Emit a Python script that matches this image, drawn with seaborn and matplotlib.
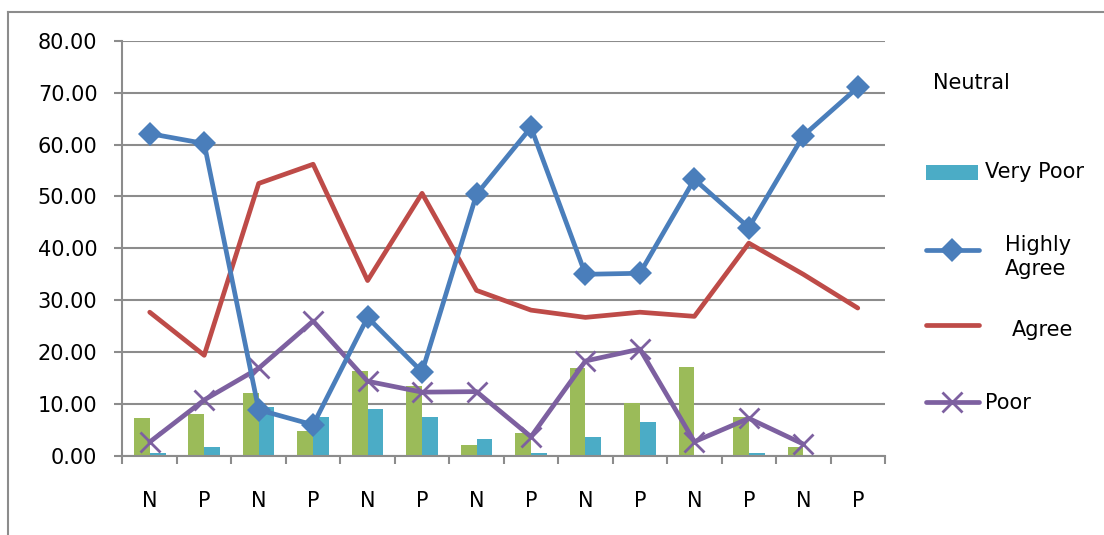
import numpy as np
import pandas as pd
import matplotlib
matplotlib.use("Agg")
import matplotlib.pyplot as plt
from matplotlib.lines import Line2D
from matplotlib.patches import Rectangle
import seaborn as sns

# Response groups (N / P alternating)
groups = ["N", "P", "N", "P", "N", "P", "N", "P", "N", "P", "N", "P", "N", "P"]

# Bar series
neutral = [7.3, 8.0, 12.2, 4.8, 16.3, 13.4, 2.2, 4.4, 16.9, 10.2, 17.1, 7.5, 1.7, 0.0]
very_poor = [0.6, 1.7, 9.5, 7.5, 9.0, 7.5, 3.3, 0.5, 3.6, 6.5, 0.0, 0.5, 0.0, 0.0]

# Line series
highly_agree = [62.1, 60.2, 8.9, 6.0, 26.7, 16.2, 50.4, 63.3, 35.0, 35.2, 53.3, 44.0, 61.7, 71.0]
agree = [27.7, 19.4, 52.5, 56.2, 33.8, 50.6, 31.9, 28.1, 26.7, 27.7, 26.9, 41.0, 35.0, 28.5]
poor = [2.7, 10.8, 16.9, 26.0, 14.4, 12.3, 12.4, 3.7, 18.3, 20.6, 2.75, 7.25, 2.3]

y_ticks = [0, 10, 20, 30, 40, 50, 60, 70, 80]

C_NEUTRAL = "#9BBB59"
C_VPOOR = "#4BACC6"
C_HAGREE = "#4A7EBB"
C_AGREE = "#BE4B48"
C_POOR = "#7D60A0"
GRID = "#8C8C8C"
FS = 15

sns.set_theme(style="white")
plt.rcParams["font.family"] = ["DejaVu Sans"]
plt.rcParams["text.color"] = "black"

W, H = 1104, 535
fig = plt.figure(figsize=(W / 100, H / 100), dpi=100)
ax = fig.add_axes([122.5 / W, 1 - 456 / H, (885 - 122.5) / W, (456 - 40.7) / H])

pos = np.arange(len(groups))
bars = pd.DataFrame({
    "pos": np.concatenate([pos, pos]),
    "value": neutral + very_poor,
    "series": ["Neutral"] * len(pos) + ["Very Poor"] * len(pos),
})
sns.barplot(data=bars, x="pos", y="value", hue="series",
            palette={"Neutral": C_NEUTRAL, "Very Poor": C_VPOOR}, saturation=1,
            width=0.58, dodge=True, gap=0, linewidth=0, legend=False,
            ax=ax, zorder=2)

line_kw = dict(linewidth=3.4, solid_joinstyle="round", solid_capstyle="round", zorder=4)
sns.lineplot(x=pos, y=agree, color=C_AGREE, ax=ax, **line_kw)
sns.lineplot(x=pos[:len(poor)], y=poor, color=C_POOR, marker="x", markersize=14,
             markeredgewidth=2.0, markeredgecolor=C_POOR, ax=ax, **line_kw)
sns.lineplot(x=pos, y=highly_agree, color=C_HAGREE, marker="D", markersize=12,
             markeredgewidth=0, ax=ax, **line_kw)

ax.set_xlim(-0.5, len(groups) - 0.5)
ax.set_ylim(0, 80)
ax.set_xlabel("")
ax.set_ylabel("")

ax.set_yticks(y_ticks)
ax.set_yticklabels([f"{v:.2f}" for v in y_ticks])
ax.set_xticks(pos)
ax.set_xticklabels(groups)
ax.set_xticks(np.arange(-0.5, len(groups), 1.0), minor=True)

ax.tick_params(axis="y", which="major", left=True, length=6, width=1.5, color=GRID,
               direction="out", pad=12, labelsize=FS, labelcolor="black")
ax.tick_params(axis="x", which="major", bottom=False, length=0, pad=25, labelsize=FS,
               labelcolor="black")
ax.tick_params(axis="x", which="minor", bottom=True, length=6, width=1.5, color=GRID,
               direction="out")

ax.grid(axis="y", color=GRID, linewidth=1.5)
ax.grid(axis="x", visible=False)
ax.set_axisbelow(True)
for side in ("top", "right"):
    ax.spines[side].set_visible(False)
for side in ("left", "bottom"):
    ax.spines[side].set_color(GRID)
    ax.spines[side].set_linewidth(1.5)

# Outer chart frame: only its left and top edges fall inside the canvas
frame_x = 8 / W
frame_y = 1 - 12 / H
fig.add_artist(Line2D([frame_x, frame_x], [-0.05, frame_y], color=GRID, linewidth=1.5,
                      solid_capstyle="projecting", transform=fig.transFigure))
fig.add_artist(Line2D([frame_x, 1.05], [frame_y, frame_y], color=GRID, linewidth=1.5,
                      solid_capstyle="projecting", transform=fig.transFigure))

# Legend drawn in figure pixel coordinates
def fx(px):
    return px / W

def fy(py):
    return 1 - py / H

fig.text(fx(933), fy(83), "Neutral", fontsize=FS, va="center", ha="left")

fig.add_artist(Rectangle((fx(926), fy(180)), (978 - 926) / W, 15 / H,
                         transform=fig.transFigure, facecolor=C_VPOOR, edgecolor="none"))
fig.text(fx(985), fy(172), "Very Poor", fontsize=FS, va="center", ha="left")

fig.add_artist(Line2D([fx(926), fx(979)], [fy(250), fy(250)], color=C_HAGREE,
                      linewidth=3.4, solid_capstyle="round", transform=fig.transFigure))
fig.add_artist(Line2D([fx(952)], [fy(250)], color=C_HAGREE, marker="D", markersize=12,
                      markeredgewidth=0, transform=fig.transFigure))
fig.text(fx(1005), fy(257), "Highly\nAgree", fontsize=FS, va="center", ha="left",
         linespacing=1.2)

fig.add_artist(Line2D([fx(926), fx(979)], [fy(325), fy(325)], color=C_AGREE,
                      linewidth=3.4, solid_capstyle="round", transform=fig.transFigure))
fig.text(fx(1012), fy(330), "Agree", fontsize=FS, va="center", ha="left")

fig.add_artist(Line2D([fx(926), fx(979)], [fy(402), fy(402)], color=C_POOR,
                      linewidth=3.4, solid_capstyle="round", transform=fig.transFigure))
fig.add_artist(Line2D([fx(952)], [fy(402)], color=C_POOR, marker="x", markersize=14,
                      markeredgewidth=2.0, transform=fig.transFigure))
fig.text(fx(985), fy(403), "Poor", fontsize=FS, va="center", ha="left")

fig.savefig("out.png", dpi=100, facecolor="white")
